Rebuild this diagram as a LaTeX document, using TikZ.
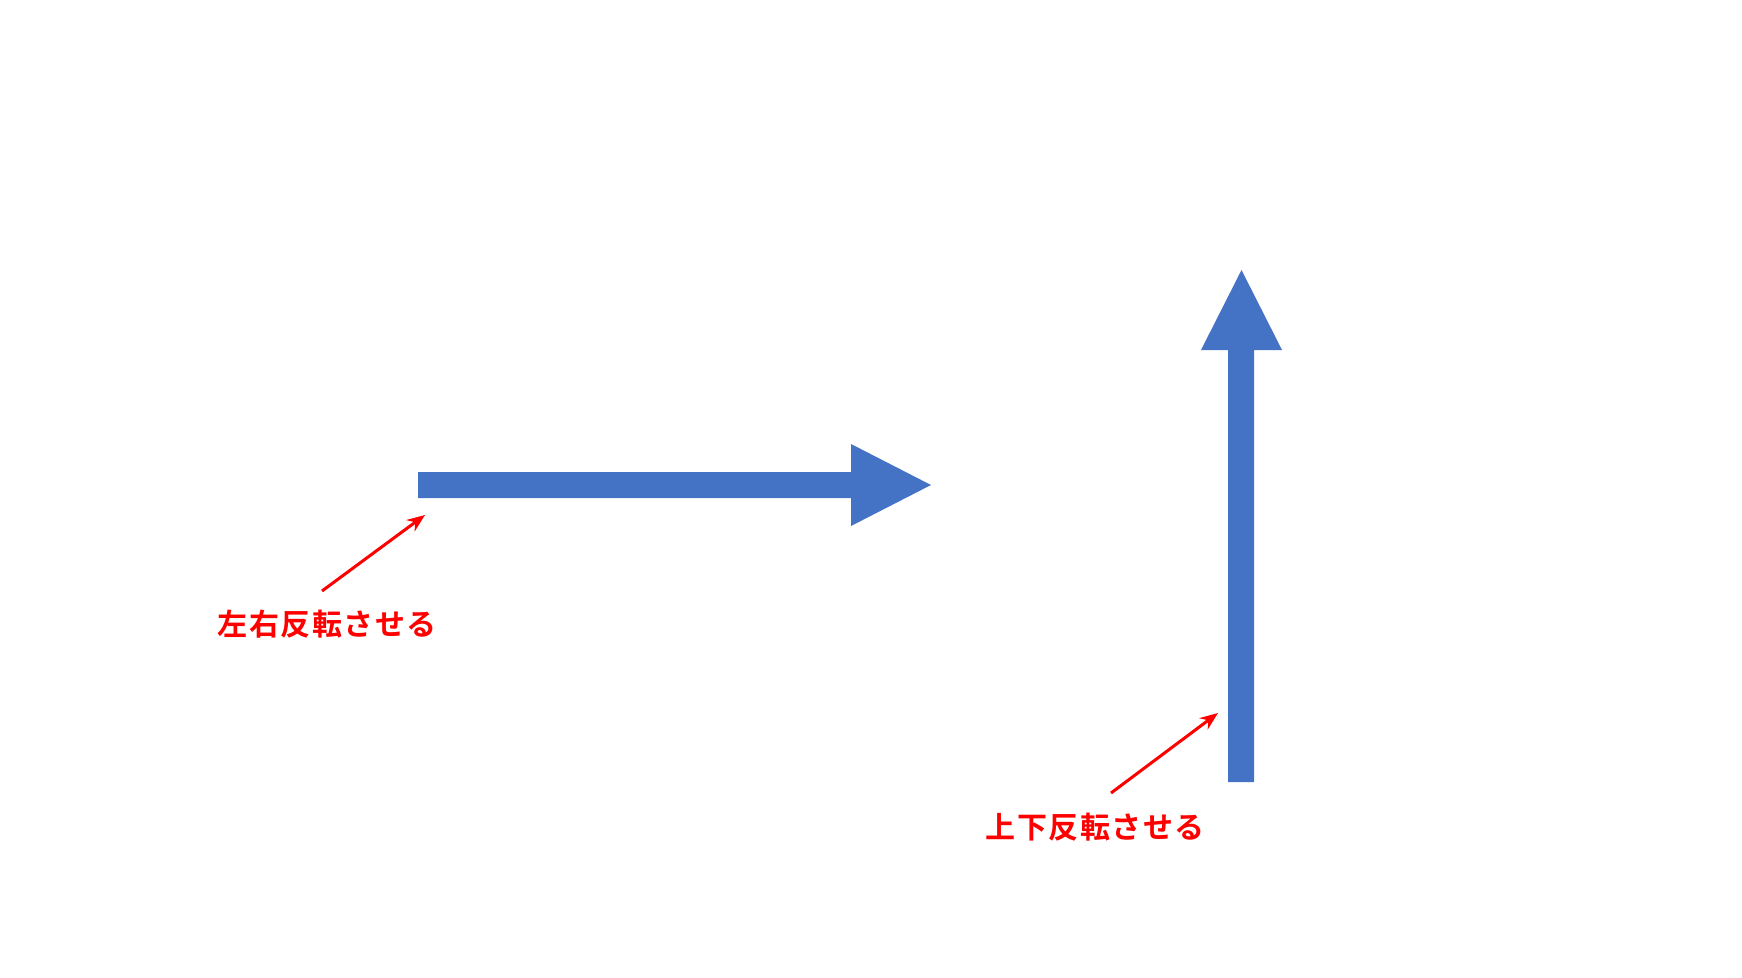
\documentclass[tikz,border=0pt]{standalone}
\usepackage{fontspec}
\newfontfamily\cjk{Noto Sans CJK JP}[BoldFont={Noto Sans CJK JP Bold}]
\usetikzlibrary{arrows.meta}
\definecolor{blueArrow}{HTML}{4472C4}
\definecolor{redLabel}{HTML}{FF0000}
\newcommand{\gp}{\kern1.5pt}
\tikzset{
  bigarrow/.style={fill=blueArrow, draw=none},
  callout/.style={draw=redLabel, line width=3pt, -{Stealth[length=18pt,width=14pt]}},
  lbl/.style={text=redLabel, font=\cjk\bfseries\fontsize{30}{33}\selectfont, inner sep=0pt}
}
\begin{document}
\begin{tikzpicture}[x=1pt,y=-1pt]
\useasboundingbox (0,0) rectangle (1742,977);
% horizontal arrow
\fill[bigarrow] (418,472) -- (851,472) -- (851,444) -- (931,485) -- (851,526) -- (851,498) -- (418,498) -- cycle;
% vertical arrow
\fill[bigarrow] (1228,782) -- (1228,350) -- (1201,350) -- (1241.5,270) -- (1282,350) -- (1254,350) -- (1254,782) -- cycle;
% labels
\node[lbl] (lr) at (327,624) {左\gp 右\gp 反\gp 転\gp さ\gp せ\gp る};
\node[lbl] (ud) at (1095,827) {上\gp 下\gp 反\gp 転\gp さ\gp せ\gp る};
\coordinate (lrs) at (322,591);
\coordinate (lre) at (425,515);
\coordinate (uds) at (1111,793);
\coordinate (ude) at (1218,713);
\draw[callout] (lrs) -- (lre);
\draw[callout] (uds) -- (ude);
\end{tikzpicture}
\end{document}
